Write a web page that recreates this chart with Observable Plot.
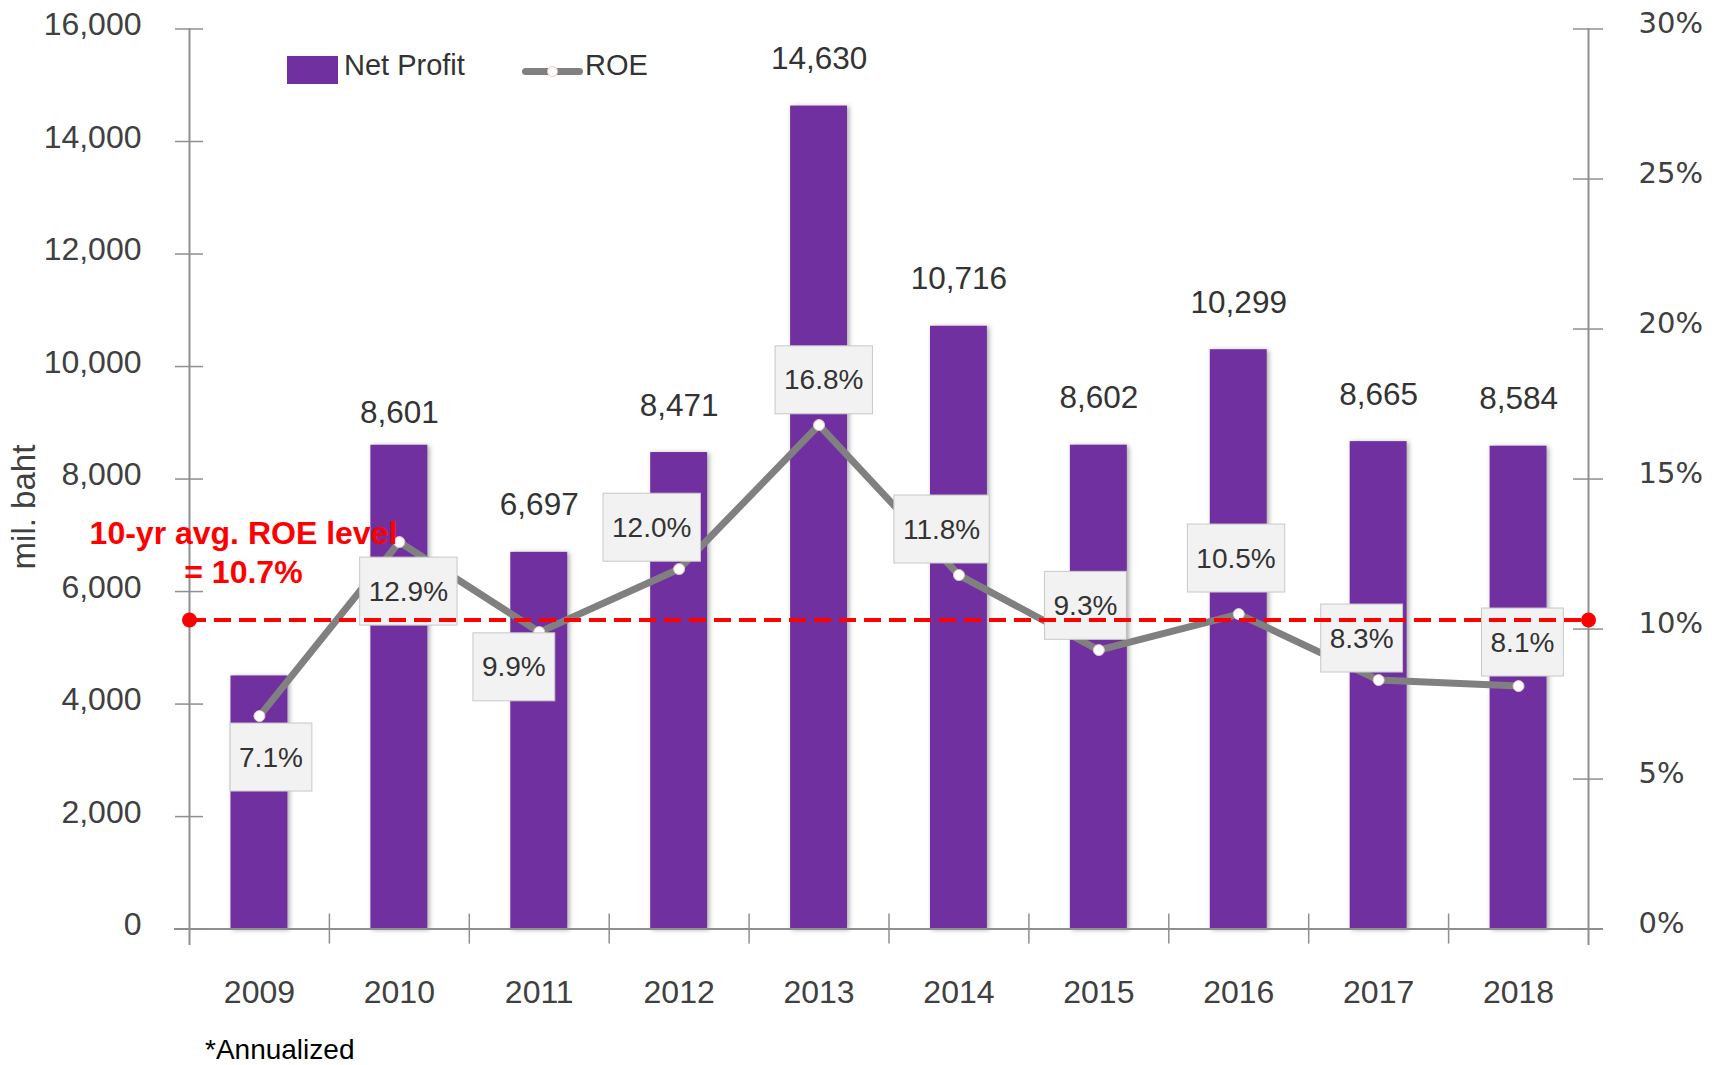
<!DOCTYPE html>
<html>
<head>
<meta charset="utf-8">
<script src="https://cdn.jsdelivr.net/npm/d3@7"></script>
<script src="https://cdn.jsdelivr.net/npm/@observablehq/plot@0.6"></script>
<style>
  html, body { margin: 0; padding: 0; background: #fff; overflow: hidden; }
  #wrap { position: relative; width: 1721px; height: 1065px; font-family: "Liberation Sans", Arial, sans-serif; }
  .abs { position: absolute; }
  .lgtext { font-size: 29px; line-height: 32px; color: #333; white-space: nowrap; }
  #caption { font-size: 28px; line-height: 30px; padding-left: 205px; margin-top: 3px; color: #000; }
</style>
</head>
<body>
<div id="wrap">
  <div id="chart"></div>
  <div id="caption">*Annualized</div>
  <div class="abs" style="left:287px;top:56px;width:51px;height:28px;background:#7030a0;"></div>
  <div class="abs lgtext" style="left:344px;top:49px;">Net Profit</div>
  <div class="abs" style="left:522px;top:67.5px;width:61px;height:7px;border-radius:3.5px;background:#808080;"></div>
  <div class="abs" style="left:547px;top:65.5px;width:11px;height:11px;border-radius:50%;background:#fff;border:1px solid #e6c6c6;box-sizing:border-box;"></div>
  <div class="abs lgtext" style="left:585px;top:49px;">ROE</div>
</div>
<script>
// ---------- data ----------
const years = ["2009", "2010", "2011", "2012", "2013", "2014", "2015", "2016", "2017", "2018"];
const netProfit = [4500, 8601, 6697, 8471, 14630, 10716, 8602, 10299, 8665, 8584];
const netProfitLabels = ["", "8,601", "6,697", "8,471", "14,630", "10,716", "8,602", "10,299", "8,665", "8,584"];
const roe = [7.1, 12.9, 9.9, 12.0, 16.8, 11.8, 9.3, 10.5, 8.3, 8.1];
const roeLabels = ["7.1%", "12.9%", "9.9%", "12.0%", "16.8%", "11.8%", "9.3%", "10.5%", "8.3%", "8.1%"];
const leftTicks = [0, 2000, 4000, 6000, 8000, 10000, 12000, 14000, 16000];
const rightTicks = [0, 5, 10, 15, 20, 25, 30];
const avgRoeLevel = 10.3;            // where the dashed line sits on the ROE axis
const avgRoeText = "10-yr avg. ROE level\n= 10.7%";
const yLabel = "mil. baht";

// ---------- layout ----------
const W = 1721, H = 1032;
const mL = 189, mR = 133, mT = 28.5, mB = 103.4;
const plotW = W - mL - mR, plotH = H - mT - mB;
const step = plotW / years.length;
const leftMax = 16000, rightMax = 30;
const k = leftMax / rightMax;        // ROE % -> left-axis units
const axisC = "#8f8f8f";
const purple = "#7030a0";
const red = "#ff0000";

const rows = years.map((y, i) => ({year: y, np: netProfit[i], npLabel: netProfitLabels[i], roe: roe[i], roeLabel: roeLabels[i]}));

// label nudges (pixels) replicating the manual label placement
const roeNudge = [[11.5, 41.5], [9, 49.6], [-25.4, 35.3], [-27.4, -41.3], [4.7, -44.7], [-17.4, -45.5], [-13.4, -44.2], [-2.7, -55.5], [-17, -41.5], [3.9, -43.5]];
const npNudge = [0, -32, -47, -47, -47, -47, -47, -47, -47, -47];

const roeY = d => d.roe * k;

const marks = [
  Plot.barY(rows, {x: "year", y: "np", fill: purple, insetLeft: 41.5, insetRight: 41.5}),
  // axis lines
  Plot.frame({anchor: "left", stroke: axisC, strokeWidth: 2, insetBottom: -15}),
  Plot.frame({anchor: "right", stroke: axisC, strokeWidth: 2, insetBottom: -15}),
  Plot.ruleY([0], {stroke: axisC, strokeWidth: 2, insetLeft: -15, insetRight: -15}),
  // crossing ticks
  Plot.tickY(leftTicks, {y: d => d, insetRight: plotW - 28, dx: -14, stroke: axisC, strokeWidth: 1.5}),
  Plot.tickY(rightTicks.map(t => t * k), {y: d => d, insetLeft: plotW - 30, dx: 15, stroke: axisC, strokeWidth: 1.5}),
  Plot.tickX(years.slice(1), {x: d => d, dx: -step / 2, insetTop: plotH - 15, insetBottom: -15, stroke: axisC, strokeWidth: 1.5}),
  // axis labels
  Plot.axisY(leftTicks, {anchor: "left", tickSize: 0, tickPadding: 48, tickFormat: d3.format(","), dy: -4, fontSize: 32, label: null}),
  Plot.axisY(rightTicks.map(t => t * k), {anchor: "right", tickSize: 0, tickPadding: 50, tickFormat: v => Math.round(v / k) + "%", dy: -5, fontSize: 29, fontFamily: "DejaVu Sans", label: null}),
  Plot.axisX({tickSize: 0, tickPadding: 51, fontSize: 32, label: null}),
  Plot.text([yLabel], {text: d => d, frameAnchor: "left", textAnchor: "middle", lineAnchor: "middle", rotate: -90, dx: -165, dy: 28, fontSize: 33, fill: "#404040"}),
  // ROE line
  Plot.line(rows, {x: "year", y: roeY, stroke: "#808080", strokeWidth: 7, strokeLinejoin: "round", strokeLinecap: "round"}),
  Plot.dot(rows, {x: "year", y: roeY, r: 5.5, fill: "#ffffff", stroke: "#e6c6c6", strokeWidth: 1}),
  // bar value labels
  ...rows.map((d, i) => d.npLabel ? Plot.text([d], {x: "year", y: "np", text: "npLabel", dy: npNudge[i], lineAnchor: "middle", fontSize: 31.5, fill: "#333"}) : null).filter(Boolean),
  // ROE labels (boxes added after render)
  ...rows.map((d, i) => Plot.text([d], {x: "year", y: roeY, text: "roeLabel", dx: roeNudge[i][0], dy: roeNudge[i][1], lineAnchor: "middle", fontSize: 28, fill: "#333"})),
  // average line
  Plot.ruleY([avgRoeLevel * k], {stroke: red, strokeWidth: 4, strokeDasharray: "17,8"}),
  Plot.dot([avgRoeLevel * k], {y: d => d, frameAnchor: "left", r: 7.5, fill: red}),
  Plot.dot([avgRoeLevel * k], {y: d => d, frameAnchor: "right", r: 7.5, fill: red}),
  Plot.text([{year: years[0], v: avgRoeLevel * k, t: avgRoeText}], {x: "year", y: "v", text: "t", dx: -16, dy: -69, lineAnchor: "middle", lineHeight: 1.22, fontSize: 32, fontWeight: "bold", fill: red})
];

const chart = Plot.plot({
  width: W,
  height: H,
  marginLeft: mL,
  marginRight: mR,
  marginTop: mT,
  marginBottom: mB,
  x: {type: "band", domain: years, padding: 0, round: false, label: null},
  y: {domain: [0, leftMax], nice: false, label: null},
  style: {fontFamily: "'Liberation Sans', Arial, sans-serif", fontSize: "30px", color: "#404040", background: "#fff", overflow: "visible"},
  marks
});
document.getElementById("chart").append(chart);

// label boxes behind ROE labels
const NS = "http://www.w3.org/2000/svg";
Array.from(chart.querySelectorAll("text")).forEach(t => {
  if (!roeLabels.includes(t.textContent)) return;
  const bb = t.getBBox();
  const w = bb.width + 18, h = 68;
  const r = document.createElementNS(NS, "rect");
  r.setAttribute("x", bb.x + bb.width / 2 - w / 2);
  r.setAttribute("y", bb.y + bb.height / 2 - h / 2);
  r.setAttribute("width", w);
  r.setAttribute("height", h);
  const tr = t.getAttribute("transform");
  if (tr) r.setAttribute("transform", tr);
  r.setAttribute("fill", "#f2f2f2");
  r.setAttribute("stroke", "#c8c8c8");
  r.setAttribute("stroke-width", "1");
  t.parentNode.insertBefore(r, t);
});
// soft shadow on bars
const barG = chart.querySelector('g[aria-label="bar"]');
if (barG) barG.style.filter = "drop-shadow(2px 1px 2.5px rgba(0,0,0,0.35))";
</script>
</body>
</html>
